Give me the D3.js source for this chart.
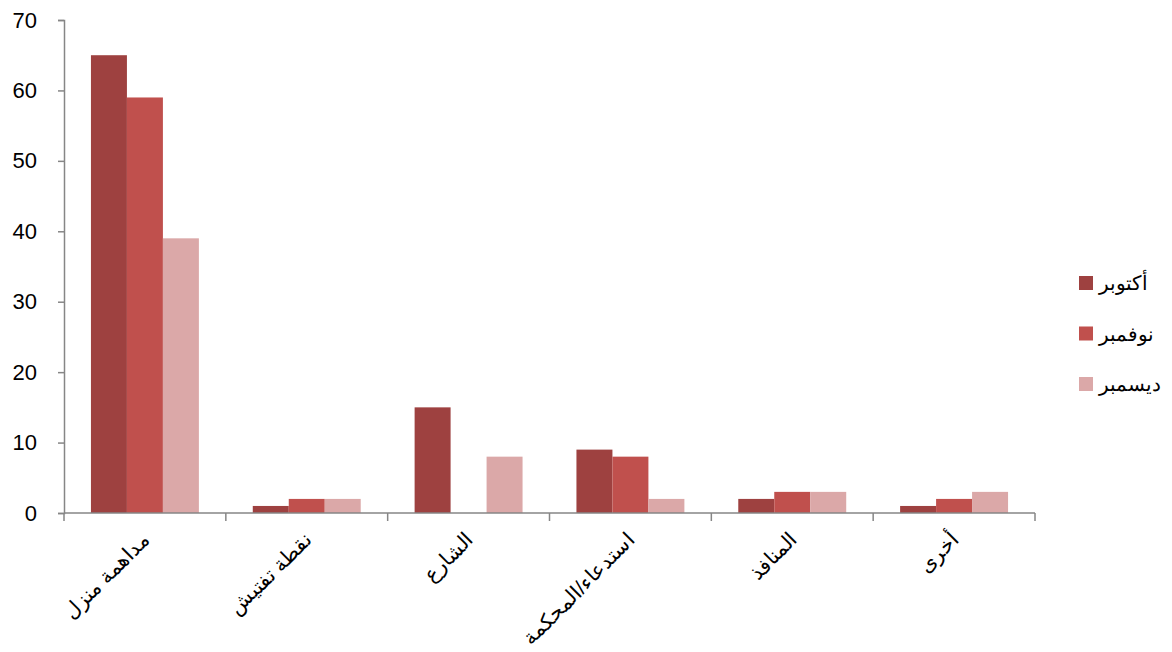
<!DOCTYPE html>
<html>
<head>
<meta charset="utf-8">
<script src="https://cdn.jsdelivr.net/npm/d3@7"></script>
<style>
  html, body { margin: 0; padding: 0; background: #fff; }
  svg { display: block; }
  text { font-family: "Liberation Sans", Arial, sans-serif; fill: #000; }
</style>
</head>
<body>
<svg id="chart" width="1172" height="652"></svg>
<script>
// Incident categories (x axis)
const categories = ["مداهمة منزل", "نقطة تفتيش", "الشارع", "استدعاء/المحكمة", "المنافذ", "أخرى"];
// Monthly series
const seriesNames = ["أكتوبر", "نوفمبر", "ديسمبر"];
const octoberValues = [65, 1, 15, 9, 2, 1];
const novemberValues = [59, 2, 0, 8, 3, 2];
const decemberValues = [39, 2, 8, 2, 3, 3];
const yTicks = [0, 10, 20, 30, 40, 50, 60, 70];
const colors = ["#9E4140", "#C0504D", "#DBA8A8"];

const seriesValues = [octoberValues, novemberValues, decemberValues];

const svg = d3.select("#chart");
const plotLeft = 64, plotRight = 1035, plotTop = 20, plotBottom = 513;

const x = d3.scaleBand().domain(categories).range([plotLeft, plotRight]).paddingInner(0.333).paddingOuter(0.1665);
const x1 = d3.scaleBand().domain(seriesNames).range([0, x.bandwidth()]);
const y = d3.scaleLinear().domain([0, 70]).range([plotBottom, plotTop]);

// Bars
categories.forEach((c, ci) => {
  const g = svg.append("g").attr("transform", `translate(${x(c)},0)`);
  seriesNames.forEach((s, si) => {
    const v = seriesValues[si][ci];
    g.append("rect")
      .attr("x", x1(s))
      .attr("width", x1.bandwidth())
      .attr("y", y(v))
      .attr("height", plotBottom - y(v))
      .attr("fill", colors[si]);
  });
});

// Y axis
const yAxis = svg.append("g").attr("transform", `translate(${plotLeft},0)`)
  .call(d3.axisLeft(y).tickValues(yTicks).tickSize(6).tickPadding(21));
yAxis.select(".domain").attr("stroke", "#868686").attr("stroke-width", 1.5);
yAxis.selectAll(".tick line").attr("stroke", "#868686").attr("stroke-width", 1.5);
yAxis.selectAll(".tick text").attr("font-size", 22).attr("font-family", "Liberation Sans, Arial, sans-serif").attr("fill", "#1a1a1a");

// X axis with tick marks at category boundaries
const boundaries = d3.range(categories.length + 1).map(i => plotLeft + i * (plotRight - plotLeft) / categories.length);
svg.append("line").attr("x1", plotLeft).attr("x2", plotRight).attr("y1", plotBottom).attr("y2", plotBottom)
  .attr("stroke", "#868686").attr("stroke-width", 1.5);
svg.selectAll(".xtick").data(boundaries).enter().append("line")
  .attr("x1", d => d).attr("x2", d => d).attr("y1", plotBottom).attr("y2", plotBottom + 8)
  .attr("stroke", "#868686").attr("stroke-width", 1.5);

// Rotated category labels
svg.selectAll(".xlabel").data(categories).enter().append("text")
  .attr("transform", d => `translate(${x(d) + x.bandwidth() / 2 + 6},${plotBottom + 28}) rotate(-45)`)
  .attr("text-anchor", "end")
  .attr("font-size", 20.5)
  .text(d => d);

// Legend
const legend = svg.append("g");
seriesNames.forEach((s, i) => {
  const cy = 283 + i * 50.5;
  legend.append("rect").attr("x", 1079).attr("y", cy - 7).attr("width", 14).attr("height", 14).attr("fill", colors[i]);
  legend.append("text").attr("x", 1099).attr("y", cy + 7).attr("font-size", 20).attr("text-anchor", "start").text(s);
});
</script>
</body>
</html>
